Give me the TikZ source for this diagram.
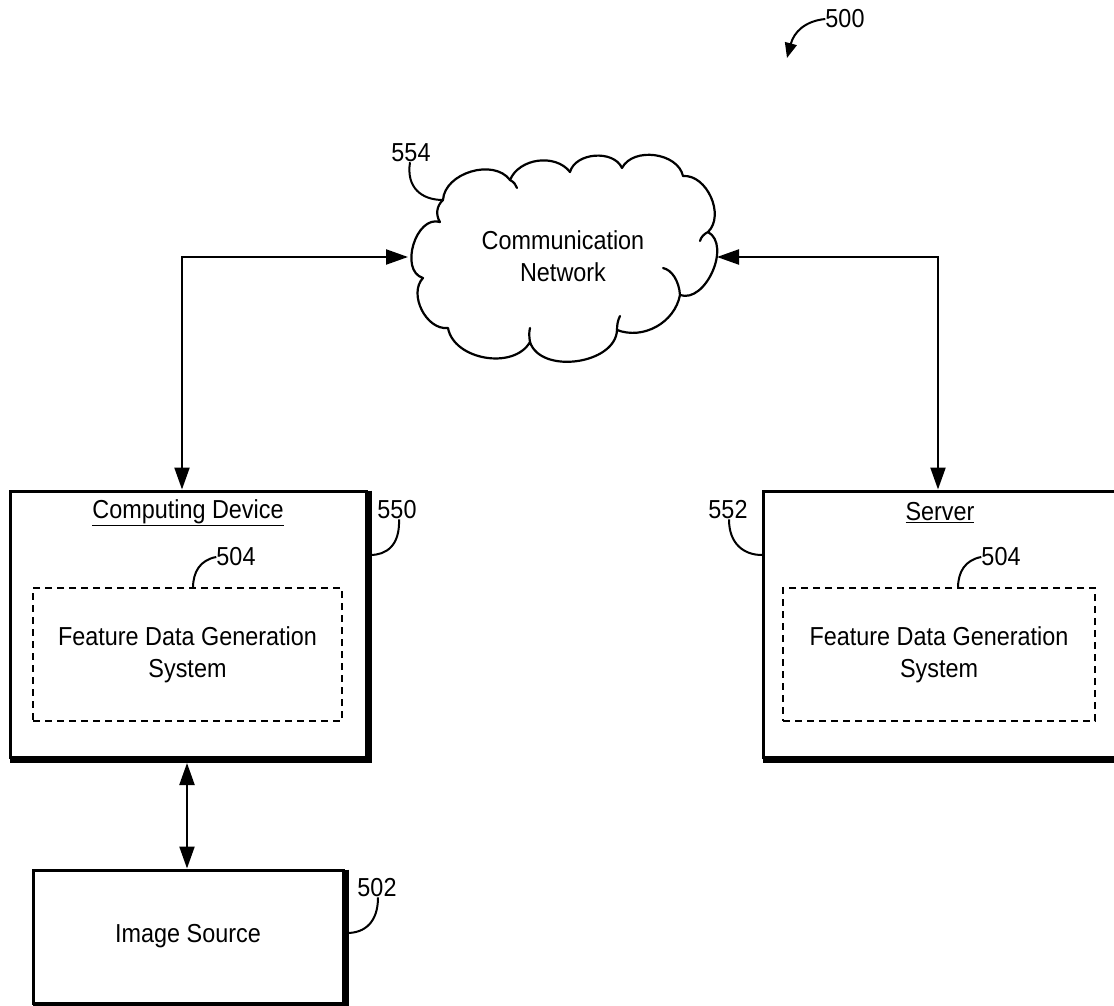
\documentclass[tikz,border=0pt]{standalone}
\usepackage{fontspec}
\setmainfont{Liberation Sans}[FakeStretch=0.9]
\usetikzlibrary{arrows.meta,calc}
\begin{document}
\begin{tikzpicture}[x=1pt,y=-1pt,
  every node/.style={font=\fontsize{26}{32}\selectfont, inner sep=0pt},
  box/.style={draw, line width=3pt, fill=white, inner sep=0pt},
  shadowline/.style={line width=3.6pt},
  dbox/.style={draw, dash pattern=on 7pt off 5pt, line width=1.8pt, align=center},
  conn/.style={line width=2.2pt, {Triangle[length=22pt,width=15pt]}-{Triangle[length=22pt,width=15pt]}},
  leader/.style={line width=2pt},
  cloudline/.style={line width=2.2pt, line join=round, line cap=round},
]
\useasboundingbox (0,0) rectangle (1114,1006);

% ---- boxes ----
\node[box, minimum width=356pt, minimum height=266pt] (cd) at (188,624) {};
\draw[shadowline] ([xshift=2.4pt,yshift=-1pt]cd.north east) -- ([xshift=2.4pt,yshift=-2.4pt]cd.south east) -- ([xshift=1pt,yshift=-2.4pt]cd.south west);
\node (cdt) at (188,513) {\underline{Computing Device}};
\node[dbox, minimum width=309pt, minimum height=133pt] (fdg1) at (187.5,654.5) {Feature Data Generation\\System};

\node[box, minimum width=354pt, minimum height=266pt] (srv) at (940,624) {};
\draw[shadowline] ([xshift=2.4pt,yshift=-1pt]srv.north east) -- ([xshift=2.4pt,yshift=-2.4pt]srv.south east) -- ([xshift=1pt,yshift=-2.4pt]srv.south west);
\node (srvt) at (940,513) {\underline{Server}};
\node[dbox, minimum width=312pt, minimum height=133pt] (fdg2) at (939,654.5) {Feature Data Generation\\System};

\node[box, minimum width=310pt, minimum height=133pt] (is) at (188,936.5) {};
\draw[shadowline] ([xshift=2.4pt,yshift=-1pt]is.north east) -- ([xshift=2.4pt,yshift=-2.4pt]is.south east) -- ([xshift=1pt,yshift=-2.4pt]is.south west);
\node (ist) at (188,936) {Image Source};

% ---- cloud ----
\node[align=center] (net) at (563,256) {Communication\\Network};
\draw[cloudline]
  (443,200) to[bend left=70] (510,180)
  to[bend left=60] (570,172)
  to[bend left=70] (622,168)
  to[bend left=70] (683,176)
  to[bend left=70] (708,232)
  to[bend left=85] (680,295)
  to[bend left=50] (617,330)
  to[bend left=80] (530,342)
  to[bend left=70] (448,328)
  to[bend left=70] (423,278)
  to[bend left=90,looseness=1.1] (440,222)
  to[bend left=40] (443,200);
\draw[cloudline] (510,180) .. controls (514,182) and (516,185) .. (517,188);
\draw[cloudline] (708,232) .. controls (704,234) and (701,237) .. (700,241);
\draw[cloudline] (680,295) .. controls (679,281) and (672,270) .. (663,268);
\draw[cloudline] (617,330) .. controls (617,324) and (618,320) .. (620,316);
\draw[cloudline] (530,342) .. controls (529,336) and (529,332) .. (530,328);
\coordinate (netL) at (408,257);
\coordinate (netR) at (717,257);

% ---- connectors ----
\draw[conn] (netL) -| ([xshift=-6pt]cd.north);
\draw[conn] (netR) -| ([xshift=-2pt]srv.north);
\draw[conn] ([xshift=-1pt,yshift=-4.5pt]cd.south) -- ([xshift=-1pt]is.north);

% ---- reference labels ----
\node (l554) at (411,153) {554};
\coordinate (c554) at (443,200);
\draw[leader] ([xshift=-1pt]l554.south) .. controls (406,188) and (422,200) .. (c554);

\node (l550) at (397,510) {550};
\coordinate (c550) at (370,555);
\draw[leader] ([xshift=2pt]l550.south) .. controls (400,546) and (386,555) .. (c550);

\node (l504a) at (236,557) {504};
\coordinate (c504a) at (193,588);
\draw[leader] (l504a.west) .. controls (200,560) and (193,572) .. (c504a);

\node (l504b) at (1001,557) {504};
\coordinate (c504b) at (958,588);
\draw[leader] (l504b.west) .. controls (965,560) and (958,572) .. (c504b);

\node (l552) at (728,510) {552};
\coordinate (c552) at (762,555);
\draw[leader] ([xshift=1pt]l552.south) .. controls (729,544) and (744,555) .. (c552);

\node (l502) at (377,888) {502};
\coordinate (c502) at (347,933);
\draw[leader] ([xshift=1pt]l502.south) .. controls (378,922) and (365,933) .. (c502);

\node (l500) at (845,19) {500};
\coordinate (c500) at (787,58);
\draw[leader, -{Triangle[length=15pt,width=12pt]}] (l500.west) .. controls (805,21) and (794,32) .. (c500);
\end{tikzpicture}
\end{document}
